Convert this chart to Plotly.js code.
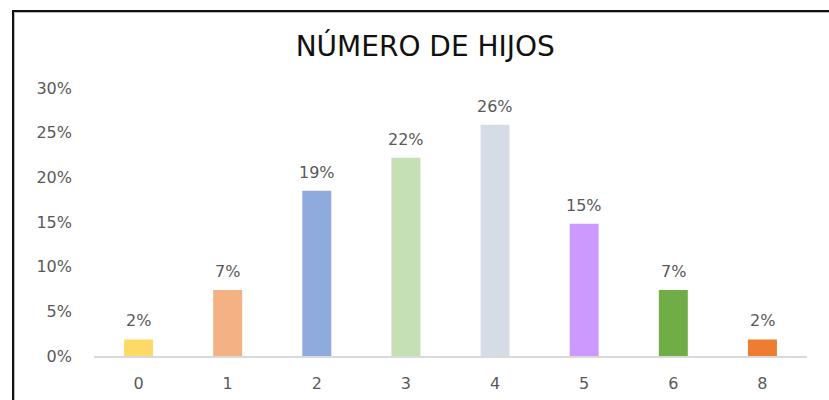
<!DOCTYPE html>
<html>
<head>
<meta charset="utf-8">
<script src="https://cdn.plot.ly/plotly-3.0.1.min.js"></script>
<style>
  html, body { margin: 0; padding: 0; background: #fff; }
  #wrap { position: relative; width: 829px; height: 400px; overflow: hidden; }
  #chart { position: absolute; left: 0; top: 0; width: 829px; height: 400px; }
  #frame { position: absolute; left: 12px; top: 10px; width: 840px; height: 420px;
           border-left: 2px solid #111; border-top: 2px solid #111;
           box-shadow: inset 1px 1px 0 #bbb; pointer-events: none; }
</style>
</head>
<body>
<div id="wrap">
  <div id="chart"></div>
  <div id="frame"></div>
</div>
<script>
const categories = ['0', '1', '2', '3', '4', '5', '6', '8'];
const shares = [0.0185, 0.074, 0.185, 0.222, 0.259, 0.148, 0.074, 0.0185];
const barColors = ['#FFD966', '#F4B183', '#8FAADC', '#C5E0B4', '#D6DCE5', '#CC99FF', '#70AD47', '#ED7D31'];
const yTickVals = [0, 0.05, 0.10, 0.15, 0.20, 0.25, 0.30];
const yTickText = ['0%', '5%', '10%', '15%', '20%', '25%', '30%'];
const chartTitle = 'NÚMERO DE HIJOS';

const font = "'DejaVu Sans', 'Open Sans', sans-serif";

// category axis: annotation x is the category's position index
const labelAnnotations = categories.map((c, i) => ({
  x: i, y: shares[i], xref: 'x', yref: 'y',
  text: Math.round(shares[i] * 100) + '%',
  showarrow: false, xanchor: 'center', yanchor: 'bottom', yshift: 7,
  font: { family: font, size: 16, color: '#595959' }
}));

Plotly.newPlot('chart', [{
  type: 'bar',
  x: categories,
  y: shares,
  marker: { color: barColors, line: { width: 0 } },
  hoverinfo: 'skip'
}], {
  width: 829, height: 400,
  paper_bgcolor: '#fff', plot_bgcolor: '#fff',
  margin: { l: 94, r: 22, t: 88, b: 44 },
  bargap: 0.675,
  showlegend: false,
  annotations: labelAnnotations,
  title: {
    text: chartTitle,
    font: { family: font, size: 28, color: '#111' },
    x: 0.513, xanchor: 'center', xref: 'container',
    y: 0.885, yanchor: 'middle', yref: 'container'
  },
  xaxis: {
    type: 'category',
    range: [-0.5, categories.length - 0.5],
    showline: true, linecolor: '#D9D9D9', linewidth: 1.5,
    showgrid: false, zeroline: false, ticks: '',
    ticklabelstandoff: 12,
    tickfont: { family: font, size: 16, color: '#595959' }
  },
  yaxis: {
    range: [0, 0.30],
    tickvals: yTickVals, ticktext: yTickText,
    showgrid: false, zeroline: false, showline: false, ticks: '',
    ticklabelstandoff: 21,
    tickfont: { family: font, size: 16, color: '#595959' }
  }
}, { displayModeBar: false, staticPlot: true });
</script>
</body>
</html>
